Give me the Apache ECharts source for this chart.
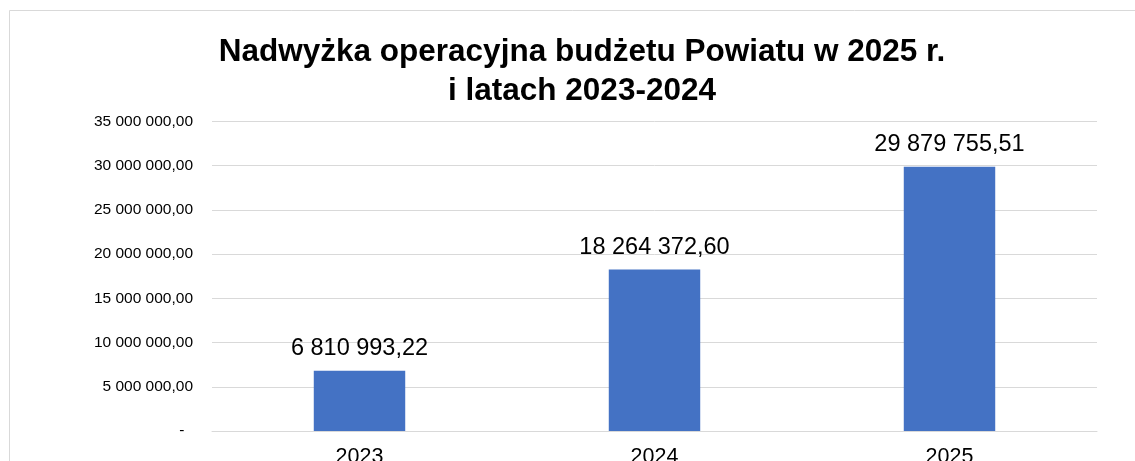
<!DOCTYPE html>
<html>
<head>
<meta charset="utf-8">
<script src="https://cdn.jsdelivr.net/npm/echarts@6/dist/echarts.min.js"></script>
<style>html,body{margin:0;padding:0;background:#fff}#c{width:1135px;height:461px}</style>
</head>
<body>
<div id="c"></div>
<script>
const categories = ['2023', '2024', '2025'];
const values = [6810993.22, 18264372.60, 29879755.51];
const yTicks = [0, 5000000, 10000000, 15000000, 20000000, 25000000, 30000000, 35000000];
const titleText = 'Nadwyżka operacyjna budżetu Powiatu w 2025 r.\ni latach 2023-2024';

function fmt(v) {
  const parts = v.toFixed(2).split('.');
  const intPart = parts[0].replace(/\B(?=(\d{3})+(?!\d))/g, ' ');
  return intPart + ',' + parts[1];
}

const chart = echarts.init(document.getElementById('c'), null, {renderer: 'canvas'});
const FONT = '"Liberation Sans", Arial, sans-serif';
chart.setOption({
  animation: false,
  backgroundColor: '#fff',
  textStyle: {fontFamily: FONT},
  graphic: [{
    type: 'rect', silent: true, z: -1,
    shape: {x: 9.5, y: 10.5, width: 1300, height: 600},
    style: {fill: 'none', stroke: '#d9d9d9', lineWidth: 1}
  }],
  title: {
    text: titleText,
    left: 577, top: 28, textAlign: 'center',
    textStyle: {fontFamily: FONT, fontSize: 31.5, fontWeight: 'bold', color: '#000', lineHeight: 39}
  },
  grid: {left: 212, right: 38, top: 121.5, bottom: 30, containLabel: false, outerBoundsMode: 'none'},
  xAxis: {
    type: 'category', data: categories,
    axisLine: {lineStyle: {color: '#d9d9d9', width: 1}},
    axisTick: {show: false},
    axisLabel: {color: '#000', fontSize: 21.5, margin: 15, fontFamily: FONT}
  },
  yAxis: {
    type: 'value', min: yTicks[0], max: yTicks[yTicks.length - 1], interval: yTicks[1] - yTicks[0],
    axisLine: {show: false}, axisTick: {show: false},
    splitLine: {lineStyle: {color: '#d9d9d9', width: 1}},
    axisLabel: {
      color: '#000', fontSize: 15.5, margin: 19, fontFamily: FONT,
      formatter: v => v === 0 ? '-  ' : fmt(v)
    }
  },
  series: [{
    type: 'bar', data: values, barWidth: '31%',
    itemStyle: {color: '#4472C4'},
    label: {
      show: true, position: 'top', distance: 10, color: '#000', fontSize: 23.5, fontFamily: FONT,
      formatter: p => fmt(p.value)
    }
  }]
});
</script>
</body>
</html>
